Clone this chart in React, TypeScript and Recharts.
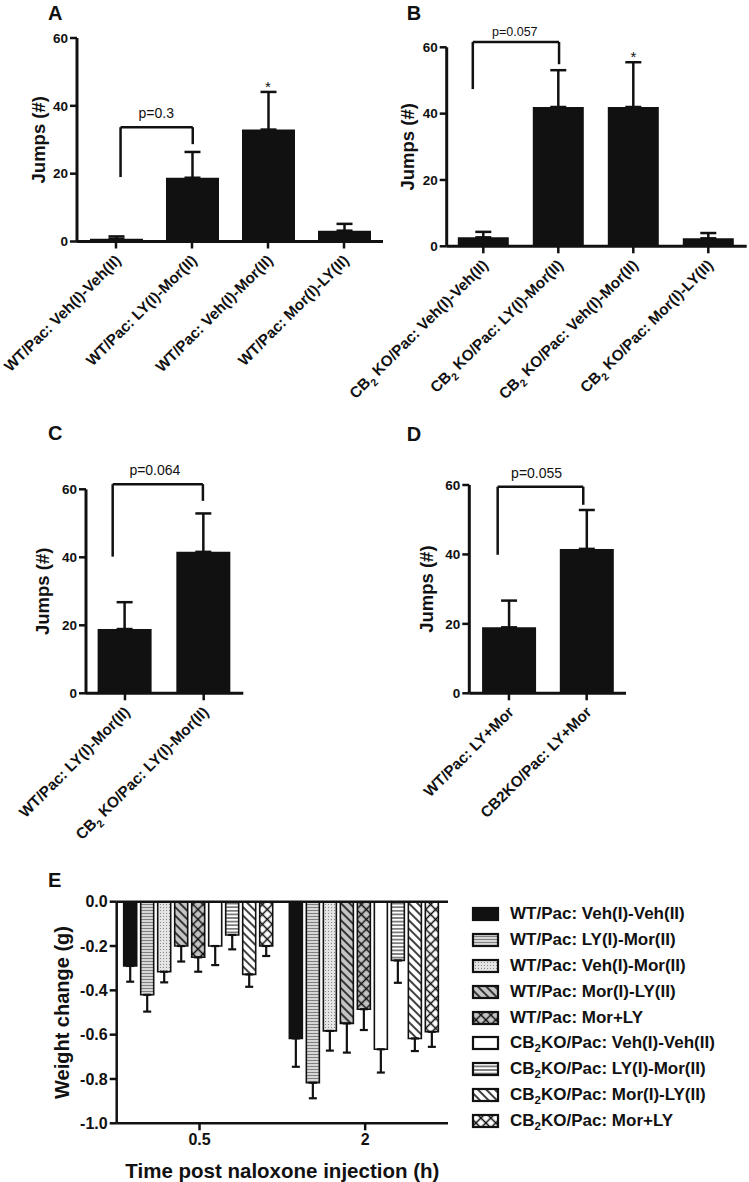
import React from 'react';
import { BarChart, Bar, XAxis, YAxis, ErrorBar, ReferenceLine, ReferenceDot, Legend } from 'recharts';

const FONT = '"Liberation Sans", Arial, Helvetica, sans-serif';
const INK = '#111111';

// ---------- Panel A ----------
const aLabels = ['WT/Pac: Veh(I)-Veh(II)', 'WT/Pac: LY(I)-Mor(II)', 'WT/Pac: Veh(I)-Mor(II)', 'WT/Pac: Mor(I)-LY(II)'];
const aMeans = [0.8, 18.8, 33.0, 3.2];
const aSems = [0.7, 7.6, 11.1, 2.0];
const aBracket = [0.06, 1.01, 19, 33.7, 28.7];
const aPText = 'p=0.3';
const aStar = [2, 45.7];

// ---------- Panel B ----------
const bLabels = ['CB₂ KO/Pac: Veh(I)-Veh(II)', 'CB₂ KO/Pac: LY(I)-Mor(II)', 'CB₂ KO/Pac: Veh(I)-Mor(II)', 'CB₂ KO/Pac: Mor(I)-LY(II)'];
const bMeans = [2.7, 42.0, 42.0, 2.4];
const bSems = [1.65, 11.1, 13.5, 1.6];
const bBracket = [-0.14, 1.01, 47.4, 61.6, 54.9];
const bPText = 'p=0.057';
const bStar = [2, 57.2];

// ---------- Panel C ----------
const cLabels = ['WT/Pac: LY(I)-Mor(II)', 'CB₂ KO/Pac: LY(I)-Mor(II)'];
const cMeans = [18.9, 41.6];
const cSems = [7.9, 11.3];
const cBracket = [-0.156, 0.99, 40.2, 61.5, 56.6];
const cPText = 'p=0.064';

// ---------- Panel D ----------
const dLabels = ['WT/Pac: LY+Mor', 'CB2KO/Pac: LY+Mor'];
const dMeans = [19.0, 41.6];
const dSems = [7.7, 11.2];
const dBracket = [-0.145, 0.956, 39.9, 59.5, 54.3];
const dPText = 'p=0.055';

const jumpTicks = [0, 20, 40, 60];

// ---------- Panel E ----------
const eTimes = ['0.5', '2'];
const eNames = [
  'WT/Pac: Veh(I)-Veh(II)',
  'WT/Pac: LY(I)-Mor(II)',
  'WT/Pac: Veh(I)-Mor(II)',
  'WT/Pac: Mor(I)-LY(II)',
  'WT/Pac: Mor+LY',
  'CB₂KO/Pac: Veh(I)-Veh(II)',
  'CB₂KO/Pac: LY(I)-Mor(II)',
  'CB₂KO/Pac: Mor(I)-LY(II)',
  'CB₂KO/Pac: Mor+LY',
];
const eMeans05 = [-0.29, -0.42, -0.316, -0.2, -0.251, -0.2, -0.15, -0.328, -0.2];
const eSems05 = [0.071, 0.076, 0.048, 0.07, 0.065, 0.086, 0.065, 0.056, 0.045];
const eMeans2 = [-0.617, -0.817, -0.583, -0.549, -0.485, -0.666, -0.265, -0.617, -0.587];
const eSems2 = [0.128, 0.07, 0.089, 0.132, 0.094, 0.105, 0.101, 0.057, 0.068];
const eTicks = [-1, -0.8, -0.6, -0.4, -0.2, 0];

const eFills = [
  INK,
  'url(#pHorizGray)',
  'url(#pDots)',
  'url(#pDiagGray)',
  'url(#pCrossGray)',
  '#ffffff',
  'url(#pHorizWhite)',
  'url(#pDiagWhite)',
  'url(#pCrossWhite)',
];

function renderSub(label: string, fs: number) {
  const parts = label.split('₂');
  if (parts.length < 2) return label;
  return [
    <tspan key="a">{parts[0]}</tspan>,
    <tspan key="b" dy={fs * 0.3} fontSize={fs * 0.68}>2</tspan>,
    <tspan key="c" dy={-fs * 0.3}>{parts[1]}</tspan>,
  ];
}

const RotTick = (props: any) => {
  const { x, y, payload, labels } = props;
  const label = labels[payload.value] ?? '';
  const fs = 15.3;
  return (
    <g transform={`translate(${x + 2},${y + 9}) rotate(-45)`}>
      <text x={0} y={0} dy="0.35em" textAnchor="end" fill={INK} fontSize={fs} fontWeight={700}>
        {renderSub(label, fs)}
      </text>
    </g>
  );
};

type Box = { left: number; top: number; width: number; height: number };
type Plot = { l: number; t: number; r: number; b: number };

function Letter({ ch, x, y }: { ch: string; x: number; y: number }) {
  return (
    <div style={{ position: 'absolute', left: x, top: y, fontSize: 20, lineHeight: '20px', fontWeight: 700, color: INK }}>
      {ch}
    </div>
  );
}

function JumpPanel(props: {
  box: Box; plot: Plot; labels: string[]; means: number[]; sems: number[];
  xDomain: [number, number]; barSize: number; bracket: number[];
  pText: string; pPos: number[]; pSize: number; star?: number[]; titleX: number;
}) {
  const { box, plot, labels, means, sems, xDomain, barSize, bracket, pText, pPos, pSize, star, titleX } = props;
  const data = means.map((m, i) => ({ x: i, m, e: [0, sems[i]] }));
  const yW = plot.l - box.left;
  const xH = box.top + box.height - plot.b;
  const margin = { top: plot.t - box.top, right: box.left + box.width - plot.r, left: 0, bottom: 0 };
  const tx = titleX - box.left;
  const ty = (plot.t + plot.b) / 2 - box.top;
  const [x1, x2, yl, yt, yr] = bracket;
  const lineProps = { stroke: INK, strokeWidth: 2.5, ifOverflow: 'visible' as const };
  return (
    <div style={{ position: 'absolute', left: box.left, top: box.top }}>
      <BarChart width={box.width} height={box.height} data={data} margin={margin}>
        <XAxis
          type="number"
          dataKey="x"
          domain={xDomain}
          allowDataOverflow
          ticks={labels.map((_, i) => i)}
          interval={0}
          height={xH}
          tickSize={7}
          tickMargin={0}
          tick={<RotTick labels={labels} />}
          axisLine={{ stroke: INK, strokeWidth: 3 }}
          tickLine={{ stroke: INK, strokeWidth: 2.5 }}
        />
        <YAxis
          type="number"
          domain={[0, 60]}
          allowDataOverflow
          ticks={jumpTicks}
          width={yW}
          tickSize={7}
          tickMargin={2}
          tick={{ fill: INK, fontSize: 13.5, fontWeight: 700 }}
          axisLine={{ stroke: INK, strokeWidth: 3 }}
          tickLine={{ stroke: INK, strokeWidth: 2.5 }}
          label={{
            content: () => (
              <text x={tx} y={ty} transform={`rotate(-90 ${tx} ${ty})`} textAnchor="middle" dominantBaseline="central"
                fill={INK} fontSize={18.5} fontWeight={700}>Jumps (#)</text>
            ),
          }}
        />
        <Bar dataKey="m" fill={INK} barSize={barSize} isAnimationActive={false}>
          <ErrorBar dataKey="e" direction="y" width={8} stroke={INK} strokeWidth={2.5} />
        </Bar>
        <ReferenceLine segment={[{ x: x1, y: yl }, { x: x1, y: yt }]} {...lineProps} />
        <ReferenceLine segment={[{ x: x1, y: yt }, { x: x2, y: yt }]} {...lineProps} />
        <ReferenceLine segment={[{ x: x2, y: yt }, { x: x2, y: yr }]} {...lineProps} />
        <ReferenceDot x={pPos[0]} y={pPos[1]} r={0} fill="none" stroke="none" ifOverflow="visible"
          label={{ value: pText, position: 'center', fill: INK, fontSize: pSize }} />
        {star && (
          <ReferenceDot x={star[0]} y={star[1]} r={0} fill="none" stroke="none" ifOverflow="visible"
            label={{ value: '*', position: 'center', fill: INK, fontSize: 15 }} />
        )}
      </BarChart>
    </div>
  );
}

function Patterns() {
  return (
    <defs>
      <pattern id="pHorizGray" width="4" height="3" patternUnits="userSpaceOnUse">
        <rect width="4" height="3" fill="#d6d6d6" />
        <line x1="0" y1="1.5" x2="4" y2="1.5" stroke="#808080" strokeWidth="1" />
      </pattern>
      <pattern id="pDots" width="3" height="3" patternUnits="userSpaceOnUse">
        <rect width="3" height="3" fill="#e4e4e4" />
        <rect x="1" y="1" width="1" height="1" fill="#8a8a8a" />
      </pattern>
      <pattern id="pDiagGray" width="6" height="6" patternUnits="userSpaceOnUse" patternTransform="rotate(-45)">
        <rect width="6" height="6" fill="#c4c4c4" />
        <line x1="3" y1="0" x2="3" y2="6" stroke={INK} strokeWidth="1.6" />
      </pattern>
      <pattern id="pCrossGray" width="7" height="7" patternUnits="userSpaceOnUse" patternTransform="rotate(45)">
        <rect width="7" height="7" fill="#c4c4c4" />
        <line x1="3.5" y1="0" x2="3.5" y2="7" stroke={INK} strokeWidth="1.5" />
        <line x1="0" y1="3.5" x2="7" y2="3.5" stroke={INK} strokeWidth="1.5" />
      </pattern>
      <pattern id="pHorizWhite" width="4" height="3.6" patternUnits="userSpaceOnUse">
        <rect width="4" height="3.6" fill="#ffffff" />
        <line x1="0" y1="1.8" x2="4" y2="1.8" stroke={INK} strokeWidth="1" />
      </pattern>
      <pattern id="pDiagWhite" width="6" height="6" patternUnits="userSpaceOnUse" patternTransform="rotate(-45)">
        <rect width="6" height="6" fill="#ffffff" />
        <line x1="3" y1="0" x2="3" y2="6" stroke={INK} strokeWidth="1.6" />
      </pattern>
      <pattern id="pCrossWhite" width="7" height="7" patternUnits="userSpaceOnUse" patternTransform="rotate(45)">
        <rect width="7" height="7" fill="#ffffff" />
        <line x1="3.5" y1="0" x2="3.5" y2="7" stroke={INK} strokeWidth="1.5" />
        <line x1="0" y1="3.5" x2="7" y2="3.5" stroke={INK} strokeWidth="1.5" />
      </pattern>
    </defs>
  );
}

function LegendLabel({ text }: { text: string }) {
  const parts = text.split('₂');
  if (parts.length < 2) return <span>{text}</span>;
  return (
    <span>
      {parts[0]}
      <span style={{ fontSize: '0.68em', position: 'relative', top: '0.35em' }}>2</span>
      {parts[1]}
    </span>
  );
}

function ELegend() {
  return (
    <div style={{ fontFamily: FONT }}>
      {eNames.map((n, i) => (
        <div key={n} style={{ display: 'flex', alignItems: 'center', height: 25.9, whiteSpace: 'nowrap' }}>
          <svg width={30} height={16} style={{ flex: 'none' }}>
            <rect x={2} y={2} width={25} height={12} fill={eFills[i]} stroke={INK} strokeWidth={2.2} />
          </svg>
          <span style={{ marginLeft: 9, fontSize: 17, fontWeight: 700, color: INK }}>
            <LegendLabel text={n} />
          </span>
        </div>
      ))}
    </div>
  );
}

function PanelE() {
  const box: Box = { left: 0, top: 855, width: 749, height: 327 };
  const plot: Plot = { l: 116.7, t: 901.7, r: 448, b: 1123.3 };
  const data = eTimes.map((t, g) => {
    const row: any = { t };
    eNames.forEach((_, i) => {
      const m = g === 0 ? eMeans05[i] : eMeans2[i];
      const s = g === 0 ? eSems05[i] : eSems2[i];
      row['m' + i] = m;
      row['e' + i] = [s, 0];
    });
    return row;
  });
  const yW = plot.l - box.left;
  const xH = box.top + box.height - plot.b;
  const margin = { top: plot.t - box.top, right: box.left + box.width - plot.r, left: 0, bottom: 0 };
  const tx = 62 - box.left;
  const ty = (plot.t + plot.b) / 2 - box.top;
  const bx = (plot.l + plot.r) / 2 - box.left;
  const by = 1170 - box.top;
  return (
    <div style={{ position: 'absolute', left: box.left, top: box.top }}>
      <BarChart width={box.width} height={box.height} data={data} margin={margin} barCategoryGap={7} barGap={4}>
        <Patterns />
        <XAxis
          dataKey="t"
          height={xH}
          tickSize={7}
          tickMargin={3}
          tick={{ fill: INK, fontSize: 16, fontWeight: 700 }}
          axisLine={{ stroke: INK, strokeWidth: 2.5 }}
          tickLine={{ stroke: INK, strokeWidth: 2.5 }}
          label={{
            content: () => (
              <text x={bx} y={by} textAnchor="middle" dominantBaseline="central" fill={INK} fontSize={20.5} fontWeight={700}>
                Time post naloxone injection (h)
              </text>
            ),
          }}
        />
        <YAxis
          type="number"
          domain={[-1, 0]}
          allowDataOverflow
          ticks={eTicks}
          width={yW}
          tickSize={7}
          tickMargin={2}
          tickFormatter={(v: number) => v.toFixed(1)}
          tick={{ fill: INK, fontSize: 16, fontWeight: 700 }}
          axisLine={{ stroke: INK, strokeWidth: 2.5 }}
          tickLine={{ stroke: INK, strokeWidth: 2.5 }}
          label={{
            content: () => (
              <text x={tx} y={ty} transform={`rotate(-90 ${tx} ${ty})`} textAnchor="middle" dominantBaseline="central"
                fill={INK} fontSize={20} fontWeight={700}>Weight change (g)</text>
            ),
          }}
        />
        {eNames.map((n, i) => (
          <Bar key={n} dataKey={'m' + i} name={n} fill={eFills[i]} stroke={INK} strokeWidth={1.6} isAnimationActive={false}>
            <ErrorBar dataKey={'e' + i} direction="y" width={4} stroke={INK} strokeWidth={2.2} />
          </Bar>
        ))}
        <ReferenceLine y={0} stroke={INK} strokeWidth={2.5} />
        <Legend
          layout="vertical"
          align="center"
          verticalAlign="middle"
          content={() => <ELegend />}
          wrapperStyle={{ left: 471, top: 46, width: 278, height: 240 }}
        />
      </BarChart>
    </div>
  );
}

export default function App() {
  return (
    <div style={{ position: 'absolute', left: 0, top: 0, width: 749, height: 1182, background: '#fff', fontFamily: FONT, overflow: 'hidden' }}>
      <style>{'.recharts-surface{overflow:visible !important;} .recharts-wrapper{overflow:visible !important;}'}</style>
      <Letter ch="A" x={48} y={2.7} />
      <Letter ch="B" x={406.7} y={2.7} />
      <Letter ch="C" x={48} y={422.7} />
      <Letter ch="D" x={406.7} y={424.4} />
      <Letter ch="E" x={48} y={869.7} />
      <JumpPanel
        box={{ left: 0, top: 0, width: 385, height: 395 }}
        plot={{ l: 77, t: 38, r: 383, b: 241.5 }}
        labels={aLabels} means={aMeans} sems={aSems}
        xDomain={[-0.513, 3.513]} barSize={53} bracket={aBracket}
        pText={aPText} pPos={[0.53, 38.0]} pSize={14} star={aStar} titleX={38}
      />
      <JumpPanel
        box={{ left: 385, top: 0, width: 364, height: 395 }}
        plot={{ l: 446.7, t: 47.3, r: 746.7, b: 246.3 }}
        labels={bLabels} means={bMeans} sems={bSems}
        xDomain={[-0.488, 3.512]} barSize={51} bracket={bBracket}
        pText={bPText} pPos={[0.42, 64.8]} pSize={12.5} star={bStar} titleX={408}
      />
      <JumpPanel
        box={{ left: 0, top: 400, width: 385, height: 450 }}
        plot={{ l: 86, t: 489.3, r: 243.3, b: 693.3 }}
        labels={cLabels} means={cMeans} sems={cSems}
        xDomain={[-0.495, 1.503]} barSize={54} bracket={cBracket}
        pText={cPText} pPos={[0.38, 65.7]} pSize={14} titleX={43}
      />
      <JumpPanel
        box={{ left: 385, top: 400, width: 364, height: 450 }}
        plot={{ l: 469.3, t: 485, r: 626, b: 693.3 }}
        labels={dLabels} means={dMeans} sems={dSems}
        xDomain={[-0.51, 1.506]} barSize={54} bracket={dBracket}
        pText={dPText} pPos={[0.356, 63.4]} pSize={14} titleX={426.7}
      />
      <PanelE />
    </div>
  );
}
